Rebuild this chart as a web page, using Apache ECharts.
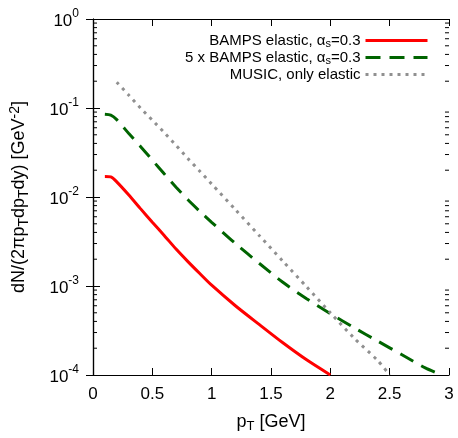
<!DOCTYPE html>
<html><head><meta charset="utf-8">
<script src="https://cdn.jsdelivr.net/npm/echarts@6/dist/echarts.min.js"></script>
<style>html,body{margin:0;padding:0;background:#fff}#c{width:458px;height:438px}</style>
</head><body><div id="c"></div>
<script>
const bampsPt   = [0.1, 0.15, 0.2, 0.3, 0.4, 0.5, 0.6, 0.7, 0.8, 0.9, 1.0, 1.2, 1.4, 1.6, 1.8, 2.0];
const bampsVal  = [0.017, 0.0168, 0.0148, 0.0106, 0.0074, 0.0052, 0.0037, 0.0026, 0.00188, 0.00138, 0.00102, 0.00060, 0.00037, 0.00023, 0.000148, 0.0001];
const bamps5Pt  = [0.1, 0.15, 0.2, 0.3, 0.4, 0.5, 0.6, 0.7, 0.8, 0.9, 1.0, 1.2, 1.4, 1.6, 1.8, 2.0, 2.2, 2.4, 2.6, 2.8, 2.9];
const bamps5Val = [0.085, 0.083, 0.074, 0.052, 0.037, 0.026, 0.0182, 0.0129, 0.0093, 0.0069, 0.0052, 0.0030, 0.0018, 0.0011, 0.00072, 0.00049, 0.00034, 0.00024, 0.00017, 0.00012, 0.000105];
const musicPt   = [0.2, 0.3, 0.4, 0.5, 0.6, 0.7, 0.8, 0.9, 1.0, 1.2, 1.4, 1.6, 1.8, 2.0, 2.2, 2.4, 2.5];
const musicVal  = [0.195, 0.14, 0.10, 0.073, 0.053, 0.038, 0.027, 0.0195, 0.014, 0.0072, 0.0037, 0.0019, 0.00098, 0.0005, 0.00026, 0.000145, 0.0001];
const minorY = [];
[1e-4, 1e-3, 1e-2, 1e-1].forEach(d => { for (let k = 2; k <= 9; k++) minorY.push(+(d * k).toPrecision(3)); });

const names = ['BAMPS elastic, αs=0.3', '5 x BAMPS elastic, αs=0.3', 'MUSIC, only elastic'];
const font = 'Liberation Sans, Arial, Helvetica, sans-serif';
const pair = (xs, ys) => xs.map((x, i) => [x, ys[i]]);
const supFmt = v => { const e = Math.round(Math.log10(v)); return '{b|10}{s|' + e + '}'; };

const chart = echarts.init(document.getElementById('c'));
const legendRich = { n: { fontSize: 15, fontFamily: font, color: '#000' }, sub: { fontSize: 11, fontFamily: font, color: '#000', padding: [7, 0, 0, 0] } };
const legFmt = n => '{n|' + n.replace('αs', 'α}{sub|s}{n|') + '}';
function leg(i, top) {
  return { data: [names[i]], right: 24, top: top, align: 'right', itemWidth: 62, itemHeight: 12, itemGap: 0,
    itemStyle: { opacity: 0 }, lineStyle: { width: 3 },
    textStyle: { fontSize: 15, fontFamily: font, color: '#000', rich: legendRich }, formatter: legFmt, selectedMode: false };
}
chart.setOption({
  animation: false,
  grid: { left: 88, right: 9, top: 19, bottom: 56 },
  legend: [leg(0, 28), leg(1, 45), leg(2, 62)],
  xAxis: [{
    type: 'value', min: 0, max: 3, interval: 0.5,
    name: '{n|p}{sub|T}{n| [GeV]}', nameLocation: 'middle', nameGap: 36,
    nameTextStyle: { fontSize: 18, fontFamily: font, color: '#000', rich: { n: { fontSize: 18, fontFamily: font, color: '#000' }, sub: { fontSize: 13, fontFamily: font, color: '#000', padding: [9, 0, 0, 0] } } },
    axisLine: { lineStyle: { color: '#000', width: 1.2 } },
    axisTick: { inside: true, length: 7, lineStyle: { color: '#000' } },
    axisLabel: { fontSize: 17, fontFamily: font, color: '#000', margin: 11, formatter: v => String(v) },
    splitLine: { show: false }
  }, {
    type: 'value', min: 0, max: 3, interval: 0.5, position: 'top',
    axisLine: { show: true, lineStyle: { color: '#000', width: 1.2 } },
    axisTick: { inside: true, length: 7, lineStyle: { color: '#000' } },
    axisLabel: { show: false }, splitLine: { show: false }
  }],
  yAxis: [{
    type: 'log', logBase: 10, min: 1e-4, max: 1,
    name: '{n|dN/(2πp}{sub|T}{n|dp}{sub|T}{n|dy) [GeV}{sup|-2}{n|]}', nameLocation: 'middle', nameGap: 62, nameRotate: 90,
    nameTextStyle: { fontSize: 18, fontFamily: font, color: '#000', rich: {
      n: { fontSize: 18, fontFamily: font, color: '#000' },
      sub: { fontSize: 14, fontFamily: font, color: '#000', padding: [9, 0, 0, 0] },
      sup: { fontSize: 14, fontFamily: font, color: '#000', padding: [0, 0, 9, 0] } } },
    axisLine: { lineStyle: { color: '#000', width: 1.2 } },
    axisTick: { inside: true, length: 7, lineStyle: { color: '#000' } },
    axisLabel: { fontFamily: font, color: '#000', margin: 14, formatter: supFmt,
      rich: { b: { fontSize: 17, fontFamily: font, color: '#000', padding: [4, 0, 0, 0] }, s: { fontSize: 12, fontFamily: font, color: '#000', padding: [0, 0, 10, 0] } } },
    splitLine: { show: false }
  }, {
    type: 'log', logBase: 10, min: 1e-4, max: 1, position: 'right',
    axisLine: { show: true, lineStyle: { color: '#000', width: 1.2 } },
    axisTick: { inside: true, length: 7, lineStyle: { color: '#000' } },
    axisLabel: { show: false }, splitLine: { show: false }
  }],
  series: [
    { name: names[0], type: 'line', data: pair(bampsPt, bampsVal), showSymbol: false, symbol: 'none', smooth: 0.25,
      lineStyle: { color: '#ff0000', width: 3 }, itemStyle: { color: '#ff0000' } },
    { name: names[1], type: 'line', data: pair(bamps5Pt, bamps5Val), showSymbol: false, symbol: 'none', smooth: 0.25,
      lineStyle: { color: '#006400', width: 3, type: [15, 9] }, itemStyle: { color: '#006400' } },
    { name: names[2], type: 'line', data: pair(musicPt, musicVal), showSymbol: false, symbol: 'none', smooth: 0.25,
      lineStyle: { color: '#909090', width: 3, type: [3, 5] }, itemStyle: { color: '#909090' } },
    { type: 'custom', data: minorY.map(v => [v]), silent: true, clip: false,
      encode: { y: 0 },
      renderItem: (params, api) => {
        const v = api.value(0);
        const l = api.coord([0, v]), r = api.coord([3, v]);
        return { type: 'group', children: [
          { type: 'line', shape: { x1: l[0], y1: l[1], x2: l[0] + 4, y2: l[1] }, style: { stroke: '#000', lineWidth: 1 } },
          { type: 'line', shape: { x1: r[0] - 4, y1: r[1], x2: r[0], y2: r[1] }, style: { stroke: '#000', lineWidth: 1 } }
        ] };
      } }
  ]
});
</script></body></html>
